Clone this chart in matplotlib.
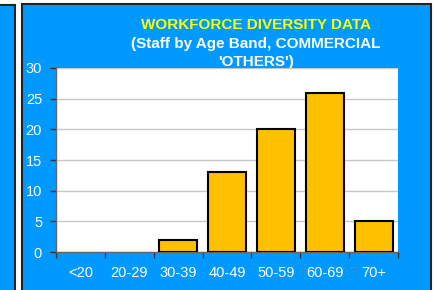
import matplotlib.pyplot as plt
from matplotlib.patches import Rectangle

plt.rcParams['font.family'] = ['Liberation Sans', 'DejaVu Sans']

age_bands = ['<20', '20-29', '30-39', '40-49', '50-59', '60-69', '70+']
staff = [0, 0, 2, 13, 20, 26, 5]

W, H = 434, 290
blue = '#0099FF'

fig = plt.figure(figsize=(W / 100, H / 100), dpi=100)
fig.patch.set_facecolor('white')

# background panels (left one is cut off by the screenshot)
fig.add_artist(Rectangle((-10 / W, -10 / H), 25.5 / W, (H - 5 + 10) / H,
                         transform=fig.transFigure, facecolor=blue,
                         edgecolor='#222222', linewidth=1.5, zorder=-2))
fig.add_artist(Rectangle((21.5 / W, -10 / H), 409 / W, (H - 4 + 10) / H,
                         transform=fig.transFigure, facecolor=blue,
                         edgecolor='#222222', linewidth=1.5, zorder=-2))

ax = fig.add_axes([56 / W, (H - 252) / H, (398 - 56) / W, (252 - 68) / H])
ax.set_zorder(1)
ax.set_facecolor('white')

x = range(len(age_bands))
# empty bands get no outline
lw = [1.5 if v > 0 else 0 for v in staff]
ax.bar(x, staff, width=0.78, color='#FFC000', edgecolor='black', linewidth=lw, zorder=3)

ax.set_xlim(-0.5, len(age_bands) - 0.5)
ax.set_ylim(0, 30)
ax.set_yticks(range(0, 31, 5))
ax.set_xticks(x)
ax.set_xticklabels(age_bands)
ax.set_xticks([i - 0.5 for i in range(len(age_bands) + 1)], minor=True)
ax.tick_params(axis='x', which='major', length=0, pad=10, labelsize=10.5, labelcolor='white')
ax.tick_params(axis='x', which='minor', length=4, width=1, color='#333333', direction='out')
ax.tick_params(axis='y', length=4, width=1, color='#333333', labelsize=10.5, labelcolor='white', pad=6)

ax.grid(axis='y', color='#C8C8C8', linewidth=1, zorder=0)
for s in ['top', 'right']:
    ax.spines[s].set_visible(False)
for s in ['left', 'bottom']:
    ax.spines[s].set_color('#666666')
    ax.spines[s].set_linewidth(1)

fig.text(256 / W, 1 - 25 / H, 'WORKFORCE DIVERSITY DATA', color='#FFFF00',
         fontsize=11, fontweight='bold', ha='center', va='center')
fig.text(256 / W, 1 - 44 / H, '(Staff by Age Band, COMMERCIAL', color='white',
         fontsize=11, fontweight='bold', ha='center', va='center')
fig.text(256 / W, 1 - 62 / H, "'OTHERS')", color='white',
         fontsize=11, fontweight='bold', ha='center', va='center', zorder=0)

fig.savefig('out.png', dpi=100)
